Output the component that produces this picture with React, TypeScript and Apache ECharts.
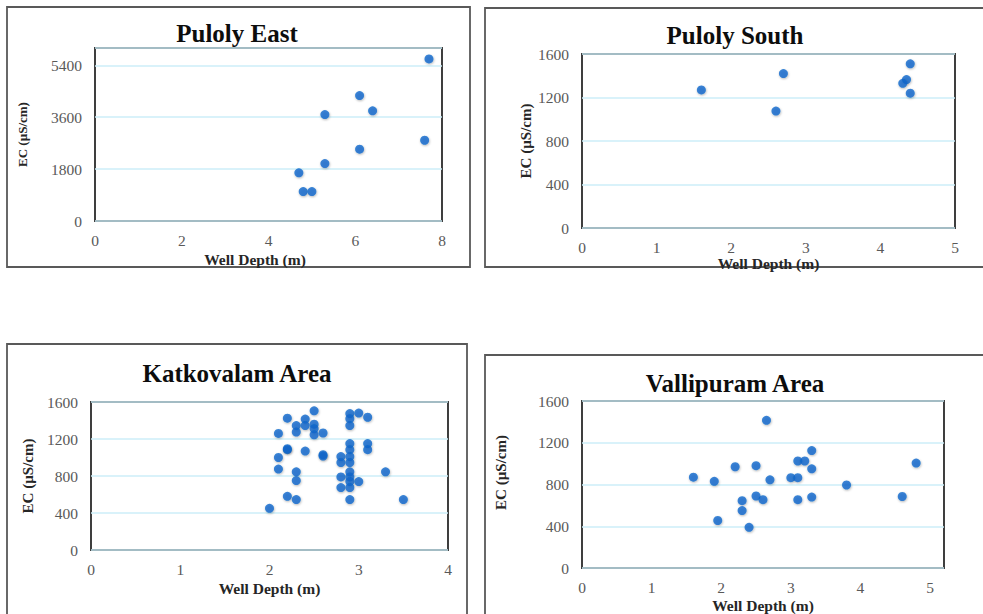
import React, { useEffect, useRef } from "react";
import * as echarts from "echarts";

// Puloly East
const peDepth = [7.7, 6.1, 6.4, 5.3, 7.6, 6.1, 5.3, 4.7, 4.8, 5.0];
const peEC = [5620, 4350, 3820, 3690, 2800, 2490, 1990, 1670, 1020, 1020];

// Puloly South
const psDepth = [1.6, 2.7, 2.6, 4.4, 4.35, 4.3, 4.4];
const psEC = [1270, 1420, 1075, 1510, 1365, 1330, 1240];

// Katkovalam Area
const kaDepth = [
  2.0, 2.2, 2.3, 2.1, 2.3, 2.3, 2.1, 2.2, 2.2, 2.4, 2.6, 2.6, 2.1, 2.2, 2.3, 2.3,
  2.4, 2.4, 2.5, 2.5, 2.5, 2.5, 2.6, 2.8, 2.8, 2.8, 2.8, 2.9, 2.9, 2.9, 3.0, 3.1,
  2.9, 2.9, 2.9, 2.9, 3.1, 3.1, 2.9, 2.9, 2.9, 2.9, 3.0, 2.9, 3.3, 3.5,
];
const kaEC = [
  450, 580, 545, 875, 845, 750, 1000, 1085, 1095, 1070, 1030, 1015, 1260, 1425, 1345, 1275,
  1415, 1345, 1505, 1360, 1310, 1245, 1265, 1010, 945, 790, 675, 1475, 1420, 1345, 1480, 1435,
  1150, 1085, 1010, 945, 1150, 1085, 845, 790, 740, 675, 740, 545, 845, 545,
];

// Vallipuram Area
const vaDepth = [
  1.6, 1.9, 1.95, 2.2, 2.3, 2.3, 2.4, 2.5, 2.5, 2.6, 2.65, 2.7, 3.0, 3.1, 3.1, 3.2,
  3.1, 3.3, 3.3, 3.3, 3.8, 4.6, 4.8,
];
const vaEC = [
  870, 830, 455, 970, 645, 550, 390, 980, 690, 655, 1415, 845, 865, 865, 1025, 1025,
  655, 1125, 950, 680, 795, 685, 1005,
];

const titles = ["Puloly East", "Puloly South", "Katkovalam Area", "Vallipuram Area"];
const xName = "Well Depth (m)";
const yName = "EC (µS/cm)";

const xMax = [8, 5, 4, 5.2];
const xInterval = [2, 1, 1, 1];
const yMax = [6000, 1600, 1600, 1600];
const yInterval = [1800, 400, 400, 400];

const SERIF = "'Liberation Serif', 'DejaVu Serif', serif";

export default function App() {
  const ref = useRef<HTMLDivElement>(null);

  useEffect(() => {
    if (!ref.current) return;
    const chart = echarts.init(ref.current, undefined, { renderer: "svg" });

    const grids = [
      { left: 95, top: 48, width: 347, height: 173 },
      { left: 582, top: 54, width: 373, height: 174 },
      { left: 91, top: 402, width: 357, height: 148 },
      { left: 582, top: 401, width: 362, height: 167 },
    ];
    const xNameGap = [30, 22, 30, 29];
    const yNameGap = [66, 49, 56, 74];
    const yNameSize = [13, 15, 15, 15];
    const xNamePad = [
      [0, 27, 0, 0],
      [0, 0, 0, 0],
      [0, 0, 0, 0],
      [0, 0, 0, 0],
    ];
    const yNamePad = [
      [0, 0, 0, 0],
      [0, 0, 0, 0],
      [0, 0, 0, 0],
      [0, 0, 0, 24],
    ];
    const data = [
      peDepth.map((d, i) => [d, peEC[i]]),
      psDepth.map((d, i) => [d, psEC[i]]),
      kaDepth.map((d, i) => [d, kaEC[i]]),
      vaDepth.map((d, i) => [d, vaEC[i]]),
    ];

    const titlePos = [
      [237, 33],
      [735, 35],
      [237, 373],
      [735, 383],
    ];
    const frames = [
      { x: 7, y: 7, width: 463, height: 260 },
      { x: 485, y: 8, width: 500, height: 259 },
      { x: 7, y: 344, width: 460, height: 280 },
      { x: 485, y: 355, width: 500, height: 270 },
    ];

    const plain = (v: number) => String(v);

    chart.setOption({
      animation: false,
      backgroundColor: "#ffffff",
      grid: grids.map((g) => ({
        ...g,
        show: true,
        borderColor: "#2b2b2b",
        borderWidth: 1.8,
        backgroundColor: "transparent",
      })),
      xAxis: grids.map((_, i) => ({
        type: "value",
        gridIndex: i,
        min: 0,
        max: xMax[i],
        interval: xInterval[i],
        name: xName,
        nameLocation: "middle",
        nameGap: xNameGap[i],
        nameTextStyle: {
          fontFamily: SERIF,
          fontWeight: "bold",
          fontSize: 15.5,
          color: "#262626",
          padding: xNamePad[i],
        },
        axisLine: { show: false },
        axisTick: { show: false },
        splitLine: { show: false },
        axisLabel: {
          margin: 11,
          fontFamily: SERIF,
          fontSize: 15.5,
          color: "#595959",
          formatter: plain,
          showMaxLabel: i === 3 ? false : true,
        },
      })),
      yAxis: grids.map((_, i) => ({
        type: "value",
        gridIndex: i,
        min: 0,
        max: yMax[i],
        interval: yInterval[i],
        name: yName,
        nameLocation: "middle",
        nameGap: yNameGap[i],
        nameTextStyle: {
          fontFamily: SERIF,
          fontWeight: "bold",
          fontSize: yNameSize[i],
          color: "#262626",
          padding: yNamePad[i],
        },
        axisLine: { show: false },
        axisTick: { show: false },
        splitLine: { show: true, lineStyle: { color: "#cdeef9", width: 1.5 } },
        axisLabel: {
          margin: 13,
          fontFamily: SERIF,
          fontSize: 15.5,
          color: "#595959",
          formatter: plain,
          showMaxLabel: i === 0 ? false : true,
        },
      })),
      series: data.map((d, i) => ({
        type: "scatter",
        xAxisIndex: i,
        yAxisIndex: i,
        data: d,
        symbol: "circle",
        symbolSize: 9,
        itemStyle: {
          color: "#0a66cc",
          shadowBlur: 2,
          shadowColor: "rgba(0,0,0,0.35)",
          shadowOffsetX: 0.5,
          shadowOffsetY: 1,
        },
      })),
      graphic: [
        ...frames.map((f) => ({
          type: "rect",
          shape: f,
          silent: true,
          z: -1,
          style: { fill: "none", stroke: "#595959", lineWidth: 1.8 },
        })),
        ...titles.map((t, i) => ({
          type: "text",
          x: titlePos[i][0],
          y: titlePos[i][1],
          style: {
            text: t,
            align: "center",
            verticalAlign: "middle",
            fontFamily: SERIF,
            fontWeight: "bold",
            fontSize: 25,
            fill: "#0d0d0d",
          },
        })),
      ],
    });

    return () => chart.dispose();
  }, []);

  return (
    <div
      ref={ref}
      style={{ position: "fixed", left: 0, top: 0, width: 983, height: 614, background: "#fff" }}
    />
  );
}
